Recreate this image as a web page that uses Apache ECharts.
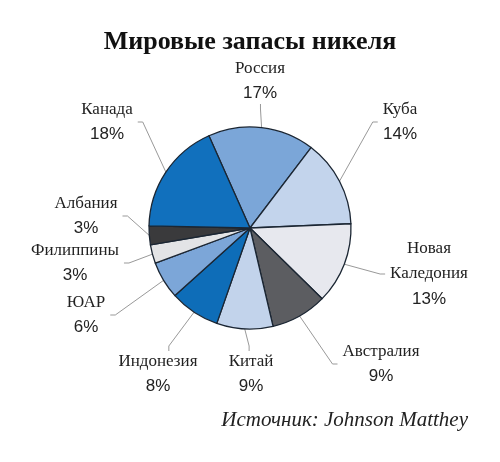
<!DOCTYPE html>
<html>
<head>
<meta charset="utf-8">
<script src="https://cdn.jsdelivr.net/npm/echarts@6/dist/echarts.min.js"></script>
<style>
html,body{margin:0;padding:0;background:#fff}
#chart{width:500px;height:462px}
</style>
</head>
<body>
<div id="chart"></div>
<script>
// доли мировых запасов никеля, по часовой стрелке от России
var countries = ['Россия', 'Куба', 'Новая\nКаледония', 'Австралия', 'Китай', 'Индонезия', 'ЮАР', 'Филиппины', 'Албания', 'Канада']
var shares = [17, 14, 13, 9, 9, 8, 6, 3, 3, 18]
var colors = ['#7ba6d8', '#c3d4ec', '#e7e8ee', '#5c5d61', '#c2d3eb', '#0e6db8', '#7ca6d8', '#e3e4e6', '#3a3a3c', '#1170bd']

// центры подписей (раскладка, не данные)
var labelPos = [[260, 81], [400, 122], [429, 274], [381, 364], [251, 374], [158, 374], [86, 315], [75, 263], [86, 216], [107, 122]]

var cx = 250, cy = 228, R = 101

var chart = echarts.init(document.getElementById('chart'))

var data = countries.map((c, i) => ({name: c, value: shares[i], itemStyle: {color: colors[i]}}))

// линия идёт от края сектора к ближайшей стороне подписи, с коротким изломом
var placeLabel = p => {
    var p0 = p.labelLinePoints[0]
    var pos = labelPos[p.dataIndex]
    var x = pos[0], y = pos[1]
    var hw = p.labelRect.width / 2 + 5, hh = p.labelRect.height / 2 + 2
    var vx = p0[0] - x, vy = p0[1] - y
    var p1, p2
    if (Math.abs(vx) / hw > 0.7 * Math.abs(vy) / hh) {
        var sx = vx > 0 ? 1 : -1
        p2 = [x + sx * hw, y]
        p1 = [p2[0] + sx * 5, y]
    } else {
        var sy = vy > 0 ? 1 : -1
        p2 = [x + Math.max(-hw, Math.min(hw, vx * 0.3)), y + sy * hh]
        p1 = [p2[0], p2[1] + sy * 5]
    }
    return {x: x, y: y, align: 'center', verticalAlign: 'middle', labelLinePoints: [p0, p1, p2]}
}

chart.setOption({
    backgroundColor: '#fff',
    animation: false,
    title: {
        text: 'Мировые запасы никеля',
        left: 'center',
        top: 24,
        textStyle: {fontFamily: 'Liberation Serif', fontSize: 26, fontWeight: 'bold', color: '#111'}
    },
    graphic: [{
        type: 'text',
        right: 32,
        top: 410,
        style: {text: 'Источник: Johnson Matthey', fontFamily: 'Liberation Serif', fontStyle: 'italic', fontSize: 21, fill: '#222'}
    }],
    series: [{
        type: 'pie',
        center: [cx, cy],
        radius: R,
        startAngle: 114,
        clockwise: true,
        percentPrecision: 0,
        data: data,
        itemStyle: {borderColor: '#1b2633', borderWidth: 1.3},
        label: {
            position: 'outside',
            alignTo: 'none',
            formatter: '{n|{b}}\n{p|{d}%}',
            rich: {
                n: {fontFamily: 'Liberation Serif', fontSize: 17, color: '#222', lineHeight: 25, align: 'center'},
                p: {fontFamily: 'Liberation Sans', fontSize: 17, color: '#222', lineHeight: 25, align: 'center'}
            }
        },
        labelLine: {length: 14, length2: 10, lineStyle: {color: '#999', width: 1}},
        labelLayout: placeLabel
    }]
})
</script>
</body>
</html>
